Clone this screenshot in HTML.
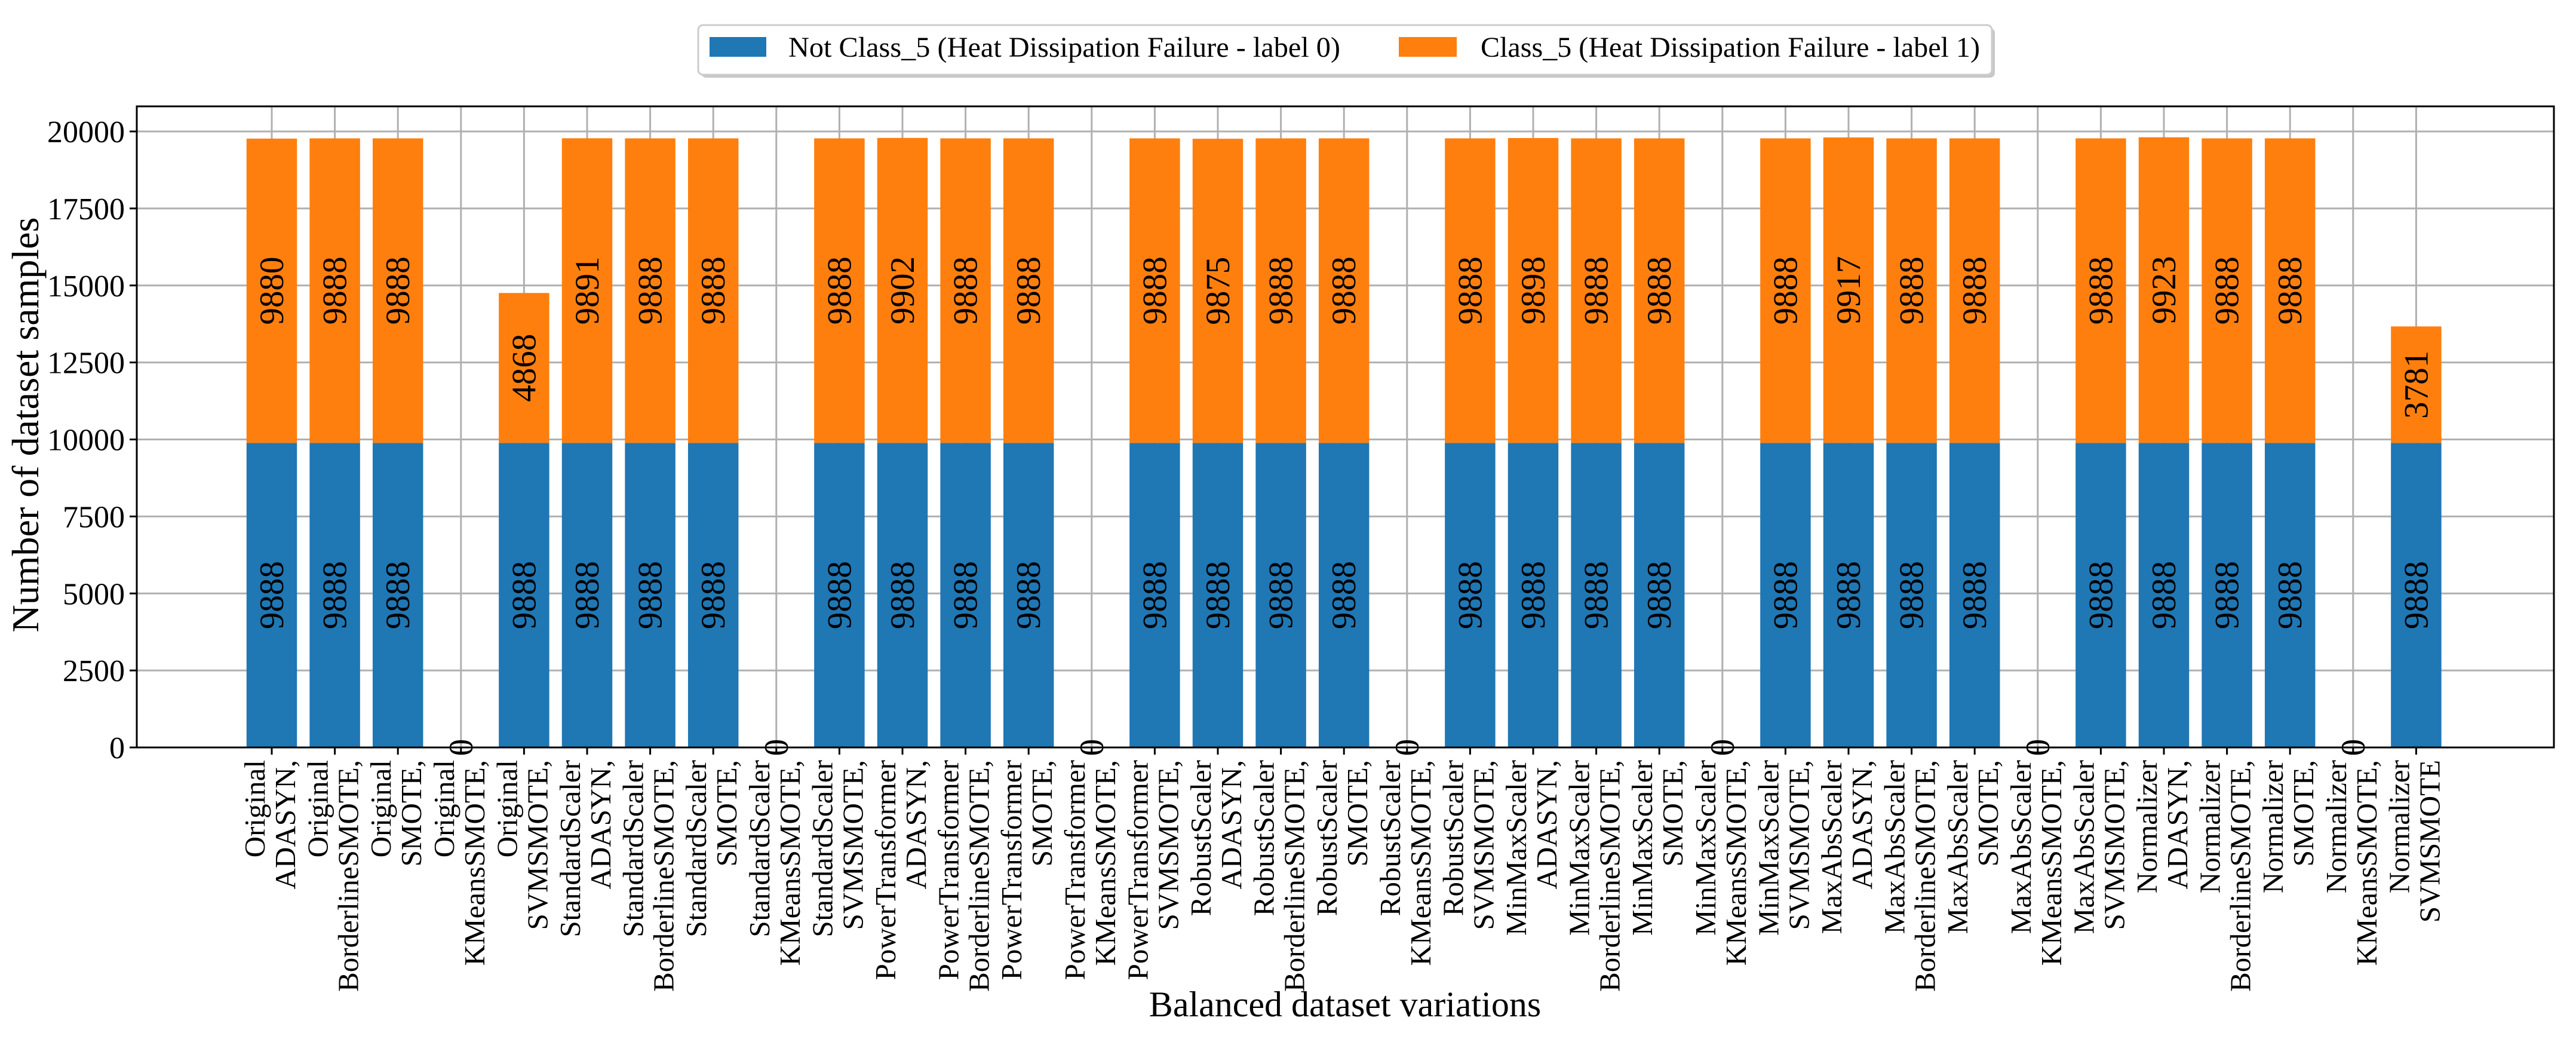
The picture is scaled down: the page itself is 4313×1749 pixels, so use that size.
<!DOCTYPE html>
<html><head><meta charset="utf-8"><style>
html,body{margin:0;padding:0;background:#fff;}
svg{display:block;font-family:"Liberation Serif",serif;}
</style></head><body>
<svg id="chart" width="4313" height="1749" viewBox="0 0 4313 1749" xmlns="http://www.w3.org/2000/svg">
<g id="grid"></g>
<g id="bars"></g>
<g id="labels"></g>
<g id="axes"></g>
<text transform="translate(64,711) rotate(-90)" text-anchor="middle" font-size="64">Number of dataset samples</text>
<text x="2252" y="1701" text-anchor="middle" font-size="60">Balanced dataset variations</text>
<g>
<rect x="1174" y="47" width="2166" height="83" rx="8" fill="#c8c8c8"/>
<rect x="1169" y="42" width="2166" height="83" rx="8" fill="#fff" stroke="#cccccc" stroke-width="3"/>
<rect x="1188" y="62" width="95" height="33" fill="#1f77b4"/>
<text x="1320" y="95" font-size="48" textLength="924" lengthAdjust="spacingAndGlyphs">Not Class_5 (Heat Dissipation Failure - label 0)</text>
<rect x="2342" y="62" width="97" height="33" fill="#ff7f0e"/>
<text x="2479" y="95" font-size="48" textLength="836" lengthAdjust="spacingAndGlyphs">Class_5 (Heat Dissipation Failure - label 1)</text>
</g>
</svg>
<script>
const scalers = ["Original","StandardScaler","PowerTransformer","RobustScaler","MinMaxScaler","MaxAbsScaler","Normalizer"];
const methods = ["ADASYN","BorderlineSMOTE","SMOTE","KMeansSMOTE","SVMSMOTE"];
const class0Values = [9888,9888,9888,0,9888, 9888,9888,9888,0,9888, 9888,9888,9888,0,9888, 9888,9888,9888,0,9888, 9888,9888,9888,0,9888, 9888,9888,9888,0,9888, 9888,9888,9888,0,9888];
const class1Values = [9880,9888,9888,0,4868, 9891,9888,9888,0,9888, 9902,9888,9888,0,9888, 9875,9888,9888,0,9888, 9898,9888,9888,0,9888, 9917,9888,9888,0,9888, 9923,9888,9888,0,3781];
const yTicks = [0,2500,5000,7500,10000,12500,15000,17500,20000];

const NS="http://www.w3.org/2000/svg";
const L=229, R=4276, T=178, B=1251;
const n=class0Values.length;
const x0=455, step=105.6;
function xPos(i){return x0+i*step;}
function yPos(v){return B-(v/20000)*(B-220);}
function mk(tag,attrs,parent){const e=document.createElementNS(NS,tag);for(const k in attrs)e.setAttribute(k,attrs[k]);parent.appendChild(e);return e;}
const grid=document.getElementById('grid'),bars=document.getElementById('bars'),labels=document.getElementById('labels'),axes=document.getElementById('axes');

const cats=[];
scalers.forEach((s,si)=>methods.forEach((m,mi)=>cats.push([s, m + ((si===scalers.length-1&&mi===methods.length-1)?"":",")])));

yTicks.forEach(v=>{
  const y=yPos(v);
  const g=mk('line',{x1:L,x2:R,y1:y,y2:y,stroke:'#b0b0b0','stroke-width':3},grid);
  
  
  const tk=mk('line',{x1:L-12,x2:L,y1:y,y2:y,stroke:'#000','stroke-width':3},axes);
  
  
  const t=mk('text',{x:L-20,y:y+18,'text-anchor':'end','font-size':52},axes);
  
  
  t.textContent=v;
});
const bw=step*0.8;
for(let i=0;i<n;i++){
  const x=xPos(i);
  const g=mk('line',{x1:x,x2:x,y1:T,y2:B,stroke:'#b0b0b0','stroke-width':3},grid);
  
  
  const v0=class0Values[i], v1=class1Values[i];
  const b0=mk('rect',{x:x-bw/2,y:yPos(v0),width:bw,height:B-yPos(v0),fill:'#1f77b4'},bars);
  
  
  const b1=mk('rect',{x:x-bw/2,y:yPos(v0+v1),width:bw,height:yPos(v0)-yPos(v0+v1),fill:'#ff7f0e'},bars);
  
  
  const c0=(yPos(0)+yPos(v0))/2;
  const l0=mk('text',{transform:`translate(${x+19},${c0}) rotate(-90)`,'text-anchor':'middle','font-size':57},labels);
  
  
  l0.textContent=v0;
  if(v1>0){
    const c1=(yPos(v0)+yPos(v0+v1))/2;
    const l1=mk('text',{transform:`translate(${x+19},${c1}) rotate(-90)`,'text-anchor':'middle','font-size':57},labels);
    
    
    l1.textContent=v1;
  }
  const tk=mk('line',{x1:x,x2:x,y1:B,y2:B+12,stroke:'#000','stroke-width':3},axes);
  
  
  const tl=mk('text',{transform:`translate(${x},1272) rotate(-90)`,'text-anchor':'end','font-size':49},axes);
  
  
  const s1=mk('tspan',{x:0,y:-12},tl); s1.textContent=cats[i][0];
  const s2=mk('tspan',{x:0,y:39},tl); s2.textContent=cats[i][1];
}
const fr=mk('rect',{x:L,y:T,width:R-L,height:B-T,fill:'none',stroke:'#000','stroke-width':3},axes);


</script>
</body></html>
